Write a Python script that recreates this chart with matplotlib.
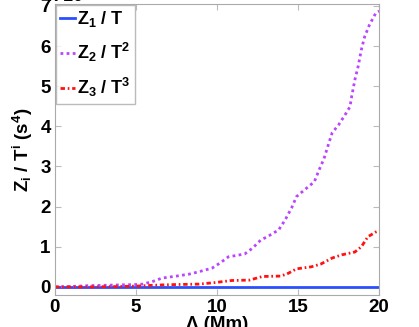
import numpy as np
import matplotlib.pyplot as plt

plt.rcParams['font.family'] = ['Liberation Sans', 'DejaVu Sans']
plt.rcParams['font.weight'] = 'bold'
plt.rcParams['mathtext.fontset'] = 'custom'
plt.rcParams['mathtext.rm'] = 'Liberation Sans:bold'
plt.rcParams['mathtext.it'] = 'Liberation Sans:bold'
plt.rcParams['mathtext.bf'] = 'Liberation Sans:bold'

# values (y in units of the 10^n offset)
lam = [0, 1, 2, 3, 4, 5, 5.4, 6, 6.6, 7.5, 8.3, 8.9, 9.7, 10.2, 10.7, 11.7, 12.2,
       12.7, 13.1, 13.8, 14.2, 14.6, 14.9, 15.4, 16.0, 16.3, 16.6, 16.9, 17.1,
       17.5, 17.9, 18.2, 18.3, 18.5, 18.7, 18.9, 19.1, 19.4, 19.8, 20]
z2 = [0.0, 0.01, 0.03, 0.04, 0.05, 0.06, 0.07, 0.13, 0.22, 0.27, 0.32, 0.38, 0.47,
      0.6, 0.75, 0.82, 0.97, 1.17, 1.25, 1.42, 1.67, 1.97, 2.25, 2.42, 2.62, 2.92,
      3.2, 3.59, 3.84, 4.04, 4.29, 4.49, 4.74, 5.16, 5.49, 5.91, 6.23, 6.53, 6.83, 6.87]

lam3 = [0, 2, 4, 5, 6, 6.6, 7.5, 8.9, 9.9, 10.9, 12.0, 12.8, 13.9, 14.3, 14.9, 15.8,
        16.4, 17.1, 17.7, 18.5, 18.9, 19.3, 19.8, 20]
z3 = [0.0, 0.0, 0.01, 0.02, 0.04, 0.05, 0.06, 0.07, 0.11, 0.16, 0.17, 0.26, 0.27,
      0.32, 0.45, 0.5, 0.57, 0.72, 0.8, 0.87, 1.0, 1.25, 1.37, 1.4]

lam1 = [0, 20]
z1 = [0.0, 0.0]

fig = plt.figure(figsize=(4.19, 3.27), dpi=100)
ax = fig.add_axes([0.131, 0.098, 0.774, 0.89])

ax.plot(lam1, z1, color='#2b4fff', lw=2, label='Z$_1$ / T')
ax.plot(lam, z2, color='#bb44ff', lw=2, ls=(0, (1, 1.2)), label='Z$_2$ / T$^2$')
ax.plot(lam3, z3, color='#ff1111', lw=2, ls=(0, (1.6, 1.0, 0.6, 1.0)), label='Z$_3$ / T$^3$')

ax.set_xlim(0, 20)
ax.set_ylim(-0.2, 7.05)
ax.set_xticks([0, 5, 10, 15, 20])
ax.set_yticks([0, 1, 2, 3, 4, 5, 6, 7])
ax.tick_params(direction='in', top=True, right=True, labelsize=13.5, color='#bbbbbb',
               length=4, pad=3)
for s in ax.spines.values():
    s.set_color('#aaaaaa')

ax.set_xlabel('Λ (Mm)', fontsize=13.5, fontweight='bold', labelpad=0)
ax.set_ylabel('Z$_i$ / T$^i$ (s$^4$)', fontsize=13.5, fontweight='bold', labelpad=4)

fig.text(0.115, 0.985, 'x 10', fontsize=13, fontweight='bold', va='bottom')

leg = ax.legend(loc='upper left', fontsize=13, handlelength=0.8, handletextpad=0.1,
                labelspacing=0.65, borderpad=0.25, borderaxespad=0.05, fancybox=False)
leg.get_frame().set_edgecolor('#aaaaaa')
leg.get_frame().set_linewidth(1)

fig.savefig('out.png', dpi=100)
